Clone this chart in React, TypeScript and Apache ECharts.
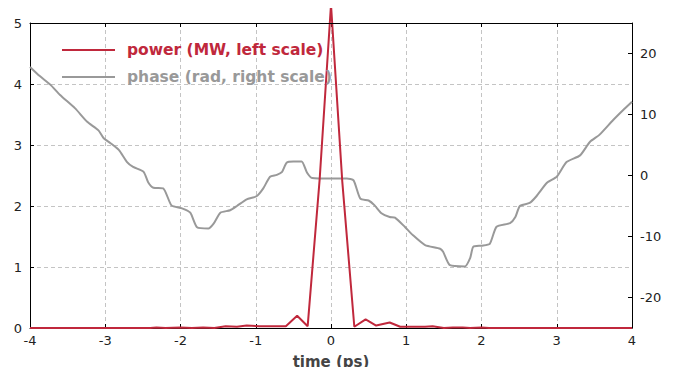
import React, { useEffect, useRef } from "react";
import * as echarts from "echarts";

const powerName = "power (MW, left scale)";
const phaseName = "phase (rad, right scale)";

// time (ps), power (MW)
const powerTime = [-4, -2.4, -2.32, -2.2, -2.0, -1.85, -1.7, -1.55, -1.4, -1.25, -1.12, -0.95, -0.75, -0.6, -0.45, -0.31, -0.15, 0, 0.15, 0.31, 0.46, 0.6, 0.78, 0.92, 1.1, 1.25, 1.35, 1.5, 1.62, 1.75, 1.85, 2.0, 2.1, 4];
const powerValue = [0, 0, 0.01, 0, 0.01, 0, 0.01, 0, 0.03, 0.02, 0.04, 0.03, 0.03, 0.03, 0.2, 0.03, 2.45, 5.3, 2.4, 0.02, 0.14, 0.04, 0.09, 0.02, 0.02, 0.02, 0.03, 0, 0.01, 0.01, 0, 0.01, 0, 0];

// time (ps), phase (rad)
const phaseTime = [-4.0, -3.87, -3.73, -3.6, -3.4, -3.24, -3.09, -3.02, -2.93, -2.82, -2.71, -2.63, -2.49, -2.43, -2.36, -2.23, -2.12, -1.98, -1.87, -1.78, -1.63, -1.56, -1.47, -1.34, -1.25, -1.12, -0.99, -0.9, -0.81, -0.72, -0.65, -0.59, -0.5, -0.39, -0.32, -0.25, 0.0, 0.21, 0.3, 0.39, 0.5, 0.58, 0.67, 0.78, 0.85, 0.98, 1.09, 1.25, 1.45, 1.49, 1.58, 1.78, 1.85, 1.89, 2.0, 2.11, 2.2, 2.38, 2.45, 2.51, 2.64, 2.73, 2.87, 3.0, 3.13, 3.31, 3.44, 3.57, 3.75, 3.88, 4.0];
const phaseValue = [17.8, 16.3, 14.9, 13.2, 11.0, 8.8, 7.4, 6.1, 5.3, 4.2, 2.2, 1.4, 0.6, -1.1, -2.0, -2.1, -4.9, -5.4, -6.1, -8.5, -8.7, -7.9, -6.1, -5.7, -5.0, -3.9, -3.4, -2.1, -0.2, 0.1, 0.6, 2.1, 2.3, 2.3, 0.5, -0.4, -0.5, -0.5, -0.8, -3.8, -4.1, -4.9, -6.2, -6.8, -6.9, -8.4, -9.8, -11.4, -12.0, -12.5, -14.7, -14.9, -13.5, -11.7, -11.5, -11.2, -8.4, -7.8, -6.8, -5.0, -4.5, -3.4, -1.2, -0.2, 2.2, 3.3, 5.5, 6.7, 9.1, 10.7, 12.1];

const rightLabels = [-20, -10, 0, 10, 20];

const RED = "#c0283c";
const GRAY = "#999999";
const FONT = "DejaVu Sans";

const GRID = { left: 30, right: 68, top: 23, bottom: 47 };

export default function App() {
  const ref = useRef<HTMLDivElement>(null);
  useEffect(() => {
    if (!ref.current) return;
    const chart = echarts.init(ref.current, undefined, { renderer: "svg" });
    const axisLine = { show: true, onZero: false, lineStyle: { color: "#000", width: 1 } };
    const tick = { show: true, inside: true, length: 4, lineStyle: { color: "#000" } };
    const split = {
      show: true,
      showMinLine: false,
      showMaxLine: false,
      lineStyle: { color: "#c4c4c4", type: [4, 3] as any, width: 1 },
    };
    chart.setOption({
      animation: false,
      textStyle: { fontFamily: FONT },
      grid: GRID,
      legend: {
        orient: "vertical",
        left: 57,
        top: 37,
        icon: "rect",
        itemWidth: 53,
        itemHeight: 2,
        itemGap: 11,
        selectedMode: false,
        textStyle: { fontFamily: FONT, fontSize: 15.5, fontWeight: "bold", padding: [0, 0, 0, 7] },
        data: [
          { name: powerName, textStyle: { color: RED } },
          { name: phaseName, textStyle: { color: GRAY } },
        ],
      },
      xAxis: [
        {
          type: "value",
          min: -4,
          max: 4,
          interval: 1,
          axisLine,
          axisTick: tick,
          axisLabel: { color: "#222", fontSize: 13, fontFamily: FONT, margin: 6 },
          splitLine: split,
          name: "time (ps)",
          nameLocation: "middle",
          nameGap: 26,
          nameTextStyle: { color: "#444", fontSize: 15, fontWeight: "bold", fontFamily: FONT },
        },
        {
          type: "value",
          position: "top",
          min: -4,
          max: 4,
          interval: 1,
          axisLine,
          axisTick: tick,
          axisLabel: { show: false },
          splitLine: { show: false },
        },
      ],
      yAxis: [
        {
          type: "value",
          min: 0,
          max: 5,
          interval: 1,
          axisLine,
          axisTick: tick,
          axisLabel: { color: "#222", fontSize: 13, fontFamily: FONT, margin: 8 },
          splitLine: split,
        },
        {
          type: "value",
          min: -25,
          max: 25,
          interval: 5,
          position: "right",
          axisLine,
          axisTick: { ...tick, customValues: rightLabels },
          axisLabel: { color: "#222", fontSize: 13, fontFamily: FONT, margin: 8, customValues: rightLabels },
          splitLine: { show: false },
        },
      ],
      graphic: [
        {
          type: "line",
          z: 100,
          shape: { x1: GRID.left, y1: GRID.top + 0.5, x2: 700 - GRID.right, y2: GRID.top + 0.5 },
          style: { stroke: "#000", lineWidth: 1 },
        },
      ],
      series: [
        {
          name: phaseName,
          type: "line",
          yAxisIndex: 1,
          data: phaseTime.map((t, i) => [t, phaseValue[i]]),
          showSymbol: false,
          symbol: "none",
          smooth: 0.2,
          lineStyle: { color: GRAY, width: 2 },
          itemStyle: { color: GRAY },
          clip: false,
        },
        {
          name: powerName,
          type: "line",
          yAxisIndex: 0,
          data: powerTime.map((t, i) => [t, powerValue[i]]),
          showSymbol: false,
          symbol: "none",
          lineStyle: { color: RED, width: 2 },
          itemStyle: { color: RED },
          clip: false,
        },
      ],
    });
    return () => chart.dispose();
  }, []);
  return <div ref={ref} style={{ width: 700, height: 375, margin: -8 }} />;
}
